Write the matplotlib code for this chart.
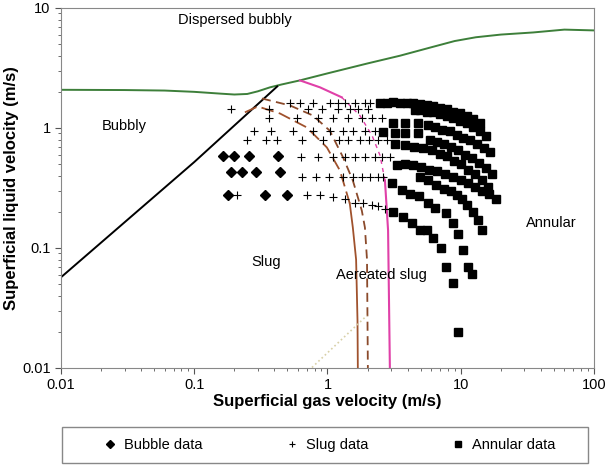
import matplotlib
matplotlib.use("Agg")
import matplotlib.pyplot as plt
from matplotlib.patches import Rectangle
from matplotlib.ticker import FixedLocator, LogLocator, NullFormatter

plt.rcParams["font.family"] = ["Liberation Sans", "DejaVu Sans"]

# transition boundaries (gas velocity, liquid velocity)
green_x = [0.01, 0.03, 0.06, 0.1, 0.16, 0.2, 0.25, 0.3, 0.37, 0.45, 0.62, 1.0,
           2.0, 3.5, 6, 9, 13, 20, 35, 60, 100]
green_y = [2.08, 2.07, 2.05, 2.0, 1.93, 1.90, 1.92, 2.02, 2.18, 2.30, 2.49, 2.85,
           3.45, 4.0, 4.7, 5.3, 5.7, 6.0, 6.25, 6.6, 6.5]

black_x = [0.01, 0.1, 0.42]
black_y = [0.057, 0.52, 2.22]

brown_x = [0.24, 0.30, 0.44, 0.70, 0.99, 1.24, 1.47, 1.55, 1.64, 1.68, 1.69]
brown_y = [1.35, 1.51, 1.32, 1.01, 0.688, 0.442, 0.235, 0.148, 0.080, 0.025, 0.01]

brown2_x = [0.322, 0.523, 0.778, 1.04, 1.31, 1.55, 1.81, 1.91, 1.98, 2.01]
brown2_y = [1.76, 1.54, 1.27, 0.95, 0.568, 0.365, 0.205, 0.148, 0.080, 0.01]

pink_x = [0.622, 0.879, 1.28, 1.75, 2.16, 2.48, 2.70, 2.85, 2.94]
pink_y = [2.49, 2.18, 1.80, 1.27, 0.866, 0.590, 0.365, 0.140, 0.01]

dot_x = [0.765, 1.98]
dot_y = [0.0101, 0.0274]

# bubble data
bubble_x = [0.164, 0.199, 0.258, 0.425, 0.189, 0.228, 0.29, 0.44, 0.179, 0.34, 0.497]
bubble_y = [0.579, 0.579, 0.579, 0.579, 0.426, 0.426, 0.426, 0.426, 0.279, 0.279, 0.279]

# slug data, row by row
slug_rows = [
    (1.60, [0.52, 0.62, 0.78, 1.04, 1.20, 1.35, 1.61, 1.91, 2.08]),
    (1.45, [0.189, 0.364, 0.714, 0.91, 1.20, 1.47, 1.69, 2.01]),
    (1.20, [0.364, 0.59, 0.849, 1.10, 1.43, 1.81, 2.16, 2.56]),
    (0.95, [0.281, 0.377, 0.551, 0.778, 1.04, 1.31, 1.55, 1.91, 2.27]),
    (0.80, [0.249, 0.346, 0.418, 0.644, 0.925, 1.22, 1.43, 1.75, 2.05, 2.39, 2.80]),
    (0.568, [0.632, 0.849, 1.10, 1.35, 1.61, 1.91, 2.27, 2.56, 2.94]),
    (0.394, [0.644, 0.82, 1.03, 1.31, 1.55, 1.81, 2.08, 2.39, 2.61]),
]
slug8_x = [0.209, 0.702, 0.879, 1.10, 1.35, 1.61, 1.85, 2.16, 2.39, 2.70]
slug8_y = [0.279, 0.279, 0.274, 0.264, 0.254, 0.239, 0.235, 0.226, 0.222, 0.213]

# annular data, one curved row each
ann_rows = [
    ([2.48, 2.80, 3.10, 3.50, 3.95, 4.38, 4.94, 5.58, 6.19, 6.98, 7.88, 8.75, 9.87, 11.1, 12.4, 13.9],
     [1.60, 1.63, 1.66, 1.63, 1.63, 1.60, 1.57, 1.54, 1.51, 1.48, 1.43, 1.37, 1.32, 1.25, 1.18, 1.11]),
    ([4.54, 4.94, 5.58, 6.19, 6.98, 7.88, 8.75, 9.87, 11.1, 12.4, 13.9, 15.5],
     [1.40, 1.40, 1.37, 1.35, 1.30, 1.25, 1.20, 1.15, 1.09, 1.01, 0.935, 0.85]),
    ([3.10, 3.82, 4.78, 5.68, 6.41, 7.23, 8.30, 9.37, 10.4, 11.7, 13.2, 14.9, 16.6],
     [1.11, 1.11, 1.11, 1.05, 1.01, 0.97, 0.935, 0.88, 0.83, 0.79, 0.73, 0.675, 0.625]),
    ([2.61, 3.21, 3.82, 4.78, 5.87, 6.63, 7.48, 8.45, 9.53, 10.8, 12.1, 13.7, 15.5, 17.1],
     [0.92, 0.90, 0.90, 0.90, 0.80, 0.77, 0.73, 0.69, 0.65, 0.60, 0.56, 0.51, 0.46, 0.41]),
    ([3.21, 3.82, 4.46, 5.21, 6.09, 6.98, 7.88, 8.90, 10.05, 11.3, 12.8, 14.4, 16.0],
     [0.74, 0.715, 0.70, 0.675, 0.65, 0.61, 0.58, 0.535, 0.50, 0.45, 0.41, 0.365, 0.325]),
    ([3.33, 3.82, 4.38, 5.03, 5.78, 6.63, 7.62, 8.75, 10.05, 11.3, 12.8, 14.4, 16.3, 18.4],
     [0.49, 0.50, 0.49, 0.47, 0.45, 0.435, 0.41, 0.39, 0.365, 0.345, 0.325, 0.30, 0.28, 0.255]),
    ([4.94, 5.68, 6.52, 7.48, 8.45, 9.37, 10.2, 11.1, 12.4, 13.5, 14.4],
     [0.387, 0.365, 0.338, 0.313, 0.296, 0.279, 0.254, 0.226, 0.201, 0.170, 0.140]),
    ([3.05, 3.62, 4.16, 4.86, 5.68, 6.41, 7.75, 8.75, 9.53, 10.4, 11.3, 12.1],
     [0.345, 0.307, 0.284, 0.269, 0.239, 0.217, 0.194, 0.163, 0.132, 0.097, 0.070, 0.061]),
    ([3.10, 3.69, 4.31, 4.94, 5.58, 6.19, 7.11, 7.75, 8.75, 9.5],
     [0.198, 0.18, 0.16, 0.14, 0.14, 0.12, 0.10, 0.070, 0.051, 0.020]),
]

fig = plt.figure(figsize=(6.07, 4.68), dpi=100)
ax = fig.add_axes([0.1005, 0.2137, 0.878, 0.7693])

ax.plot(green_x, green_y, color="#3d7f3a", lw=1.4)
ax.plot(black_x, black_y, color="black", lw=1.4)
ax.plot(brown_x[:7], brown_y[:7], color="#a0522d", lw=1.3, dashes=(7, 3))
ax.plot(brown_x[6:], brown_y[6:], color="#a0522d", lw=1.3)
ax.plot(brown2_x, brown2_y, color="#8b4a2b", lw=1.3, dashes=(5, 3))
ax.plot(pink_x[:3], pink_y[:3], color="#e040a8", lw=1.5)
ax.plot(pink_x[2:7], pink_y[2:7], color="#e040a8", lw=1.0, dashes=(3, 3))
ax.plot(pink_x[6:], pink_y[6:], color="#e040a8", lw=1.5)
ax.plot(dot_x, dot_y, color="#d8d0a8", lw=1.2, ls=":")

ax.plot(bubble_x, bubble_y, "D", color="black", ms=5.5, ls="none", label="Bubble data")
for i, (yv, xs) in enumerate(slug_rows):
    ax.plot(xs, [yv] * len(xs), "+", color="black", ms=6, mew=0.8, ls="none",
            label="Slug data" if i == 0 else None)
ax.plot(slug8_x, slug8_y, "+", color="black", ms=6, mew=0.8, ls="none")
for i, (xs, ys) in enumerate(ann_rows):
    ax.plot(xs, ys, "s", color="black", ms=6, ls="none",
            label="Annular data" if i == 0 else None)

ax.text(0.202, 8.0, "Dispersed bubbly", fontsize=10.5, ha="center", va="center")
ax.text(0.0297, 1.03, "Bubbly", fontsize=10.5, ha="center", va="center")
ax.text(0.346, 0.0757, "Slug", fontsize=10.5, ha="center", va="center")
ax.text(2.52, 0.060, "Aereated slug", fontsize=10.5, ha="center", va="center")
ax.text(47.7, 0.163, "Annular", fontsize=10.5, ha="center", va="center")

ax.set_xscale("log")
ax.set_yscale("log")
ax.set_xlim(0.01, 100)
ax.set_ylim(0.01, 10)
ax.xaxis.set_major_locator(FixedLocator([0.01, 0.1, 1, 10, 100]))
ax.yaxis.set_major_locator(FixedLocator([0.01, 0.1, 1, 10]))
ax.set_xticklabels(["0.01", "0.1", "1", "10", "100"])
ax.set_yticklabels(["0.01", "0.1", "1", "10"])
ax.xaxis.set_minor_locator(LogLocator(base=10, subs=range(2, 10)))
ax.yaxis.set_minor_locator(LogLocator(base=10, subs=range(2, 10)))
ax.xaxis.set_minor_formatter(NullFormatter())
ax.yaxis.set_minor_formatter(NullFormatter())
ax.tick_params(which="both", direction="out", colors="#555555", labelcolor="black",
               labelsize=10.5)
ax.tick_params(which="major", length=4)
ax.tick_params(which="minor", length=2.5)
for s in ax.spines.values():
    s.set_color("#888888")

ax.set_xlabel("Superficial gas velocity (m/s)", fontsize=12, fontweight="bold", labelpad=1)
ax.set_ylabel("Superficial liquid velocity (m/s)", fontsize=12, fontweight="bold", labelpad=2)

# legend box spans the plot width, entries centred inside it
fig.patches.append(Rectangle((62 / 607, 1 - 463 / 468), 526 / 607, 36 / 468,
                             transform=fig.transFigure, fill=False,
                             edgecolor="#888888", lw=1.0))
fig.legend(loc="center", bbox_to_anchor=(329 / 607, 1 - 445 / 468),
           ncol=3, fontsize=10.5, frameon=False, handlelength=1.0,
           handletextpad=0.5, columnspacing=5.6, markerscale=0.7)

fig.savefig("out.png", dpi=100)
